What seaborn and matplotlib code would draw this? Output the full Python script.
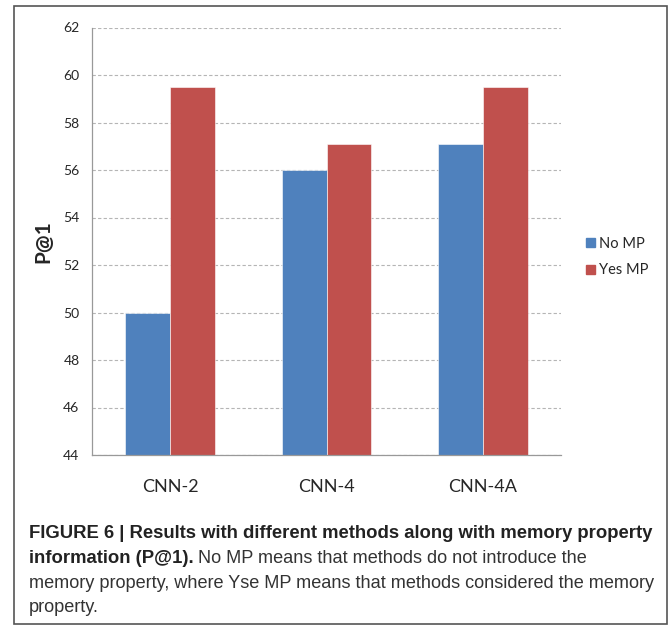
import matplotlib
matplotlib.use("Agg")
import matplotlib.pyplot as plt
import seaborn as sns
import pandas as pd
from matplotlib.patches import Rectangle, Patch

categories = ["CNN-2", "CNN-4", "CNN-4A"]
no_mp = [50.0, 56.0, 57.1]
yes_mp = [59.5, 57.1, 59.5]
series = ["No MP", "Yes MP"]
yticks = [44, 46, 48, 50, 52, 54, 56, 58, 60, 62]

df = pd.DataFrame({
    "Method": categories * 2,
    "Value": no_mp + yes_mp,
    "Series": [series[0]] * 3 + [series[1]] * 3,
})

sns.set_style("white")
plt.rcParams['font.family'] = ['Liberation Sans', 'DejaVu Sans']

fig = plt.figure(figsize=(6.69, 6.27), dpi=100)
ax = fig.add_axes([92 / 669, 1 - 455 / 627, 469 / 669, 427.5 / 627])

sns.barplot(data=df, x="Method", y="Value", hue="Series",
            palette=["#4F81BD", "#C0504D"], width=0.574, gap=0,
            ax=ax, legend=False, saturation=1, edgecolor="white", linewidth=0.4)

ax.set_ylim(44, 62)
ax.set_xlim(-0.5, 2.5)
ax.set_yticks(yticks)
ax.set_yticklabels([str(t) for t in yticks], fontsize=10, family=['Lato', 'DejaVu Sans'])
ax.set_xticks(range(3))
ax.set_xticklabels(categories, fontsize=13, family=['Lato', 'DejaVu Sans'])
ax.tick_params(axis='x', length=0, pad=17)
ax.set_xticks([-0.5, 0.5, 1.5, 2.5], minor=True)
ax.tick_params(axis='x', which='minor', length=5, color='#999999', direction='out')
ax.tick_params(axis='y', length=3, color='#999999', direction='out', pad=6)
ax.yaxis.grid(True, linestyle=(0, (3, 2)), color='#b5b5b5', linewidth=0.8)
ax.set_axisbelow(True)
for s in ['top', 'right']:
    ax.spines[s].set_visible(False)
for s in ['left', 'bottom']:
    ax.spines[s].set_color('#999999')
    ax.spines[s].set_linewidth(0.9)
ax.set_xlabel("")
ax.set_ylabel("P@1", fontsize=15, fontweight='bold', labelpad=7,
              family=['Lato', 'DejaVu Sans'])

handles = [Patch(color="#4F81BD"), Patch(color="#C0504D")]
fig.legend(handles, series, loc='upper left', bbox_to_anchor=(0.856, 0.643),
           frameon=False, handlelength=0.6, handleheight=0.6,
           handletextpad=0.3, labelspacing=0.85,
           prop={'family': ['Lato', 'DejaVu Sans'], 'size': 10.5})

# outer frame
fig.patches.append(Rectangle((14 / 669, 3 / 627), 653 / 669, 1 - 9 / 627,
                             transform=fig.transFigure, fill=False,
                             edgecolor='#555555', linewidth=1.2))

bold_fs = 13.3
reg_fs = 13.1
x0 = 29 / 669
lines_y = [1 - 538 / 627, 1 - 563 / 627, 1 - 588 / 627, 1 - 612 / 627]
fig.text(x0, lines_y[0], "FIGURE 6 | Results with different methods along with memory property",
         fontsize=bold_fs, fontweight='bold', color='#222222')
t2 = fig.text(x0, lines_y[1], "information (P@1).", fontsize=bold_fs,
              fontweight='bold', color='#222222')
fig.canvas.draw()
r = fig.canvas.get_renderer()
bb = t2.get_window_extent(r)
x_next = (bb.x1 + 4) / fig.bbox.width
fig.text(x_next, lines_y[1], "No MP means that methods do not introduce the",
         fontsize=reg_fs, color='#333333')
fig.text(x0, lines_y[2], "memory property, where Yse MP means that methods considered the memory",
         fontsize=reg_fs, color='#333333')
fig.text(x0, lines_y[3], "property.", fontsize=reg_fs, color='#333333')

fig.savefig("out.png", dpi=100)
